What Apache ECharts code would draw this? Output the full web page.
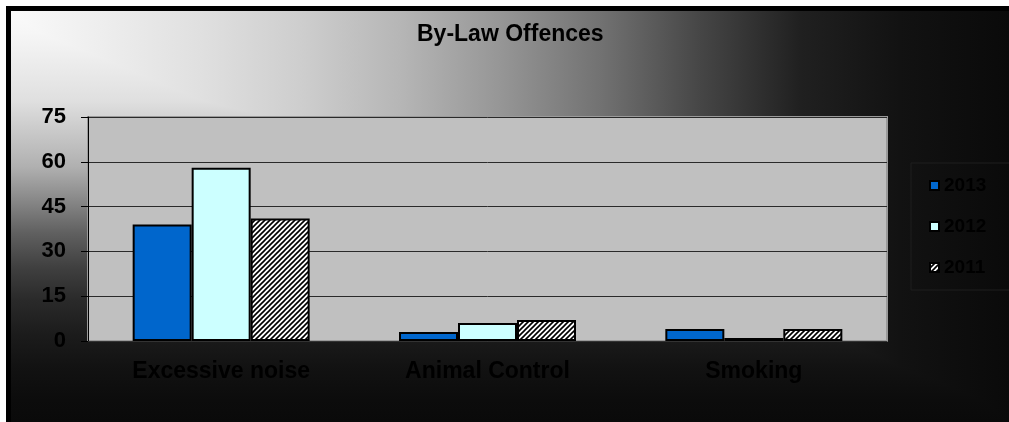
<!DOCTYPE html>
<html>
<head>
<meta charset="utf-8">
<title>By-Law Offences</title>
<script src="https://cdn.jsdelivr.net/npm/echarts@6/dist/echarts.min.js"></script>
<style>
    html, body { margin:0; padding:0; background:#0a0a0a; overflow:hidden; }
    /* corner-to-corner grey fill behind the chart (two ramps, darker one wins) */
    #frame {
        position:absolute; left:11px; top:11px; width:1060px; height:460px;
        box-shadow: -5px -5px 0 0 #000, -11px -11px 0 0 #fff;
        background-image:
            linear-gradient(to right, #fafafa 0px, #eeeeee 89px, #e0e0e0 189px, #cecece 289px, #b6b6b6 389px,
                #969696 489px, #727272 589px, #464646 689px, #202020 789px, #121212 889px, #0a0a0a 998px, #0a0a0a 1060px),
            linear-gradient(to bottom, #fafafa 0px, #f6f6f6 22px, #e0e0e0 89px, #c8c8c8 122px, #b0b0b0 156px,
                #888 189px, #606060 222px, #404040 256px, #2a2a2a 289px, #1c1c1c 322px, #121212 356px,
                #0c0c0c 389px, #0a0a0a 411px, #0a0a0a 460px);
        background-blend-mode: darken;
    }
    #chart { position:absolute; left:0; top:0; width:1060px; height:422px; }
</style>
</head>
<body>
<div id="frame"></div>
<div id="chart"></div>
<script>
var categories = ['Excessive noise', 'Animal Control', 'Smoking'];
var years = ['2013', '2012', '2011'];
var values2013 = [39, 3, 4];
var values2012 = [58, 6, 1];
var values2011 = [41, 7, 4];
var yTicks = [0, 15, 30, 45, 60, 75];

//---diagonal hatch used for 2011
function makeHatch(){
    var c = document.createElement('canvas');
    c.width = 5; c.height = 5;
    var ctx = c.getContext('2d');
    ctx.fillStyle = '#fff';
    ctx.fillRect(0, 0, 5, 5);
    ctx.strokeStyle = '#000';
    ctx.lineWidth = 1.6;
    ctx.beginPath();
    ctx.moveTo(-1, 6); ctx.lineTo(6, -1);
    ctx.moveTo(-1, 1); ctx.lineTo(1, -1);
    ctx.moveTo(4, 6); ctx.lineTo(6, 4);
    ctx.stroke();
    return c;
}

var font = '"Liberation Sans", Arial, sans-serif';
var myChart = echarts.init(document.getElementById('chart'));

var barStyle = function(color){
    return {
        color: color,
        borderColor: '#000',
        borderWidth: 2
    };
};

var option = {
    backgroundColor: 'transparent',
    animation: false,
    title: {
        text: 'By-Law Offences',
        left: 417,
        top: 23,
        padding: 0,
        textStyle: {
            fontFamily: font,
            fontWeight: 'bold',
            fontSize: 23,
            color: '#000'
        }
    },
    legend: {
        orient: 'vertical',
        left: 911,
        top: 163,
        data: years,
        itemWidth: 9,
        itemHeight: 9,
        itemGap: 22,
        padding: [13, 40, 13, 18],
        borderColor: '#1e1e1e',
        borderWidth: 1,
        icon: 'rect',
        textStyle: {
            fontFamily: font,
            fontWeight: 'bold',
            fontSize: 19,
            color: 'rgb(0,0,0)'
        }
    },
    grid: {
        left: 88,
        right: 173,
        top: 117,
        bottom: 81,
        show: true,
        backgroundColor: '#c0c0c0',
        borderColor: '#9a9a9a',
        borderWidth: 2
    },
    xAxis: {
        type: 'category',
        data: categories,
        axisLine: { lineStyle: { color: '#333', width: 1 } },
        axisTick: { length: 7, lineStyle: { color: '#222' } },
        axisLabel: {
            margin: 19,
            fontFamily: font,
            fontWeight: 'bold',
            fontSize: 23,
            color: '#000'
        }
    },
    yAxis: {
        type: 'value',
        min: yTicks[0],
        max: yTicks[yTicks.length - 1],
        interval: yTicks[1] - yTicks[0],
        axisLine: { show: true, lineStyle: { color: '#000', width: 1 } },
        axisTick: { show: true, length: 7, lineStyle: { color: '#000' } },
        axisLabel: {
            margin: 22,
            fontFamily: font,
            fontWeight: 'bold',
            fontSize: 22,
            color: '#000'
        },
        splitLine: { show: true, lineStyle: { color: '#2a2a2a', width: 1 } }
    },
    series: [
        {
            type: 'bar',
            name: years[0],
            data: values2013,
            barWidth: 59,
            barGap: '0%',
            itemStyle: barStyle('#0066cc')
        },
        {
            type: 'bar',
            name: years[1],
            data: values2012,
            barWidth: 59,
            barGap: '0%',
            itemStyle: barStyle('#ccffff')
        },
        {
            type: 'bar',
            name: years[2],
            data: values2011,
            barWidth: 59,
            barGap: '0%',
            itemStyle: barStyle({ image: makeHatch(), repeat: 'repeat' })
        }
    ]
};

myChart.setOption(option);
</script>
</body>
</html>
